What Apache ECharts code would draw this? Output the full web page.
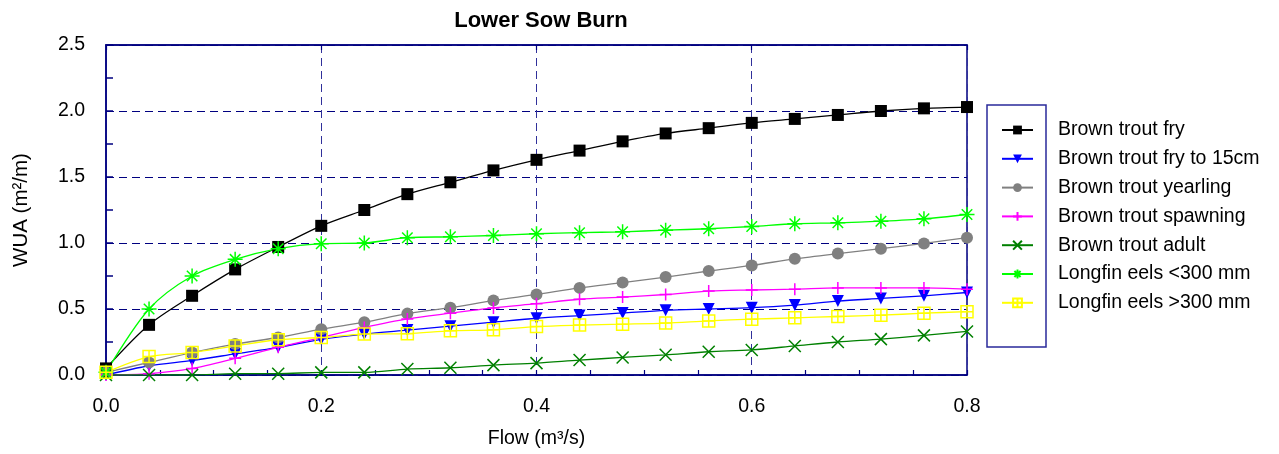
<!DOCTYPE html>
<html>
<head>
<meta charset="utf-8">
<script src="https://cdn.jsdelivr.net/npm/echarts@6/dist/echarts.min.js"></script>
<style>
html,body{margin:0;padding:0;background:#fff;}
#chart{width:1279px;height:454px;}
</style>
</head>
<body>
<div id="chart"></div>
<script>
var titleText = 'Lower Sow Burn';
var xName = 'Flow (m\u00B3/s)';
var yName = 'WUA (m\u00B2/m)';
var flows = [0, 0.04, 0.08, 0.12, 0.16, 0.20, 0.24, 0.28, 0.32, 0.36, 0.40, 0.44, 0.48, 0.52, 0.56, 0.60, 0.64, 0.68, 0.72, 0.76, 0.80];
var seriesNames = ['Brown trout fry', 'Brown trout fry to 15cm', 'Brown trout yearling', 'Brown trout spawning', 'Brown trout adult', 'Longfin eels <300 mm', 'Longfin eels >300 mm'];
var troutFry = [0.05, 0.38, 0.60, 0.80, 0.97, 1.13, 1.25, 1.37, 1.46, 1.55, 1.63, 1.70, 1.77, 1.83, 1.87, 1.91, 1.94, 1.97, 2.00, 2.02, 2.03];
var troutFry15 = [0.00, 0.07, 0.11, 0.16, 0.21, 0.27, 0.31, 0.34, 0.37, 0.40, 0.43, 0.45, 0.47, 0.49, 0.50, 0.51, 0.53, 0.56, 0.58, 0.60, 0.625];
var troutYearling = [0.02, 0.095, 0.17, 0.234, 0.284, 0.347, 0.40, 0.465, 0.51, 0.564, 0.61, 0.66, 0.70, 0.742, 0.788, 0.83, 0.88, 0.92, 0.957, 0.997, 1.04];
var troutSpawning = [0.00, 0.01, 0.05, 0.126, 0.21, 0.284, 0.36, 0.425, 0.468, 0.508, 0.54, 0.574, 0.59, 0.61, 0.636, 0.644, 0.65, 0.66, 0.66, 0.66, 0.65];
var troutAdult = [0.00, 0.00, 0.00, 0.01, 0.01, 0.02, 0.02, 0.045, 0.055, 0.075, 0.09, 0.113, 0.133, 0.153, 0.176, 0.19, 0.22, 0.25, 0.272, 0.30, 0.33];
var eelsSmall = [0.02, 0.50, 0.75, 0.876, 0.957, 0.995, 1.00, 1.04, 1.047, 1.057, 1.07, 1.078, 1.085, 1.097, 1.108, 1.125, 1.146, 1.153, 1.165, 1.183, 1.216];
var eelsLarge = [0.02, 0.14, 0.17, 0.22, 0.267, 0.284, 0.31, 0.313, 0.335, 0.342, 0.367, 0.378, 0.385, 0.393, 0.41, 0.423, 0.433, 0.443, 0.453, 0.468, 0.48];

var allValues = [troutFry, troutFry15, troutYearling, troutSpawning, troutAdult, eelsSmall, eelsLarge];
var colors = ['#000000', '#0000ff', '#808080', '#ff00ff', '#008000', '#00ff00', '#ffff00'];
var symbols = [
  'rect',
  'triangle',
  'circle',
  'path://M5 0L5 10M0 5L10 5',
  'path://M0 0L10 10M10 0L0 10',
  'path://M5 0L5 10M0 5L10 5M1.5 1.5L8.5 8.5M8.5 1.5L1.5 8.5',
  'path://M0 0L10 0L10 10L0 10ZM5 0L5 10M0 5L10 5'
];
var filled = [true, true, true, false, false, false, false];
var sizes = [12, 12, 12, 12, 12, 15, 12];
var FONT = '"Liberation Sans", Arial, sans-serif';
var NAVY = '#000080';

function pairs(vals) {
  return flows.map(function (f, i) { return [f, vals[i]]; });
}

var series = seriesNames.map(function (name, k) {
  var c = colors[k];
  return {
    name: name,
    type: 'line',
    smooth: 0.3,
    data: pairs(allValues[k]),
    symbol: symbols[k],
    symbolSize: sizes[k],
    symbolRotate: k === 1 ? 180 : 0,
    showAllSymbol: true,
    lineStyle: { color: c, width: 1.3 },
    itemStyle: filled[k] ? { color: c, borderColor: c, borderWidth: 0 } : { color: 'rgba(0,0,0,0)', borderColor: c, borderWidth: 1.5 },
    emphasis: { disabled: true },
    animation: false
  };
});

var chart = echarts.init(document.getElementById('chart'), null, { renderer: 'canvas' });
chart.setOption({
  backgroundColor: '#ffffff',
  animation: false,
  title: {
    text: titleText,
    left: 536, top: 5, textAlign: 'center',
    textStyle: { fontFamily: FONT, fontSize: 22, fontWeight: 'bold', color: '#000' }
  },
  grid: {
    left: 106, top: 45, right: 312, bottom: 78,
    show: true, borderColor: NAVY, borderWidth: 1.5, backgroundColor: 'transparent'
  },
  legend: {
    orient: 'vertical',
    left: 1001, top: 120, padding: 0,
    itemWidth: 31, itemHeight: 11, itemGap: 8.8,
    data: seriesNames,
    textStyle: { fontFamily: FONT, fontSize: 19.5, color: '#000', lineHeight: 20, padding: [0, 0, 0, 20] },
    selectedMode: false
  },
  xAxis: [{
    type: 'value', min: 0, max: 0.8, interval: 0.2,
    name: xName, nameLocation: 'middle', nameGap: 54,
    nameTextStyle: { fontFamily: FONT, fontSize: 19.5, color: '#000' },
    axisLine: { show: true, lineStyle: { color: NAVY, width: 1.5 } },
    axisTick: { show: true, inside: true, length: 5, lineStyle: { color: NAVY, width: 1.2 } },
    minorTick: { show: true, splitNumber: 4, length: 5, lineStyle: { color: NAVY, width: 1.2 } },
    axisLabel: { fontFamily: FONT, fontSize: 19.5, color: '#000', margin: 22, formatter: function (v) { return v.toFixed(1); } },
    splitLine: { show: true, lineStyle: { color: '#30309a', width: 1, type: [8, 5] } }
  }, {
    type: 'value', min: 0, max: 0.8, interval: 0.2, position: 'top',
    axisLine: { show: true, lineStyle: { color: NAVY, width: 1.5 } },
    axisTick: { show: true, inside: true, length: 5, lineStyle: { color: NAVY, width: 1.2 } },
    axisLabel: { show: false },
    splitLine: { show: false }
  }],
  yAxis: {
    type: 'value', min: 0, max: 2.5, interval: 0.5,
    name: yName, nameLocation: 'middle', nameGap: 74, nameRotate: 90,
    nameTextStyle: { fontFamily: FONT, fontSize: 20.5, color: '#000' },
    axisLine: { show: true, lineStyle: { color: NAVY, width: 1.5 } },
    axisTick: { show: true, inside: true, length: 7, lineStyle: { color: NAVY, width: 1.5 } },
    minorTick: { show: true, splitNumber: 2, length: 7, lineStyle: { color: NAVY, width: 1.5 } },
    axisLabel: { fontFamily: FONT, fontSize: 19.5, color: '#000', margin: 21, formatter: function (v) { return v.toFixed(1); } },
    splitLine: { show: true, lineStyle: { color: NAVY, width: 1, type: [8, 5] } }
  },
  graphic: [{
    type: 'rect',
    shape: { x: 987, y: 105, width: 59, height: 242 },
    style: { fill: 'none', stroke: '#2a2a9a', lineWidth: 1.5 },
    silent: true
  }],
  series: series
});
</script>
</body>
</html>
